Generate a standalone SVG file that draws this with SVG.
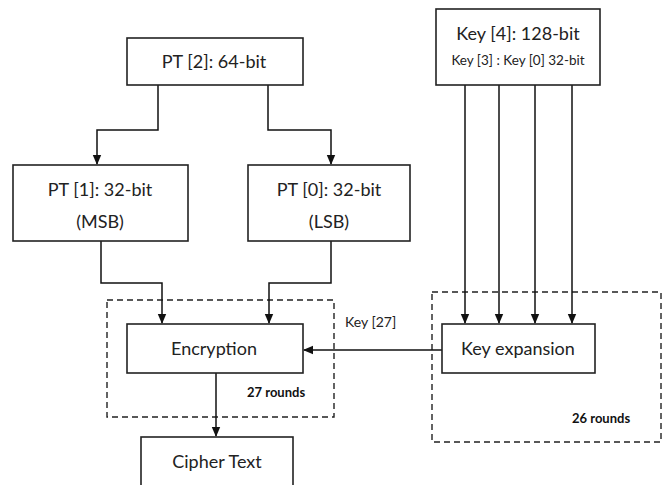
<svg xmlns="http://www.w3.org/2000/svg" width="662" height="485" viewBox="0 0 662 485">
<defs>
<marker id="ah" markerWidth="10" markerHeight="10" refX="9" refY="5" orient="auto" markerUnits="userSpaceOnUse">
<path d="M0,0.8 L10,5 L0,9.2 z" fill="#111"/>
</marker>
<style>
.box{fill:#fff;stroke:#222;stroke-width:1.6}
.dash{fill:none;stroke:#222;stroke-width:1.4;stroke-dasharray:6,4}
.t{font-family:Lato,"Liberation Sans",sans-serif;fill:#222;text-anchor:middle}
.big{font-size:18px}
.sm{font-size:13.5px}
.k{font-family:Lato,"Liberation Sans",sans-serif;font-size:14px;fill:#222}
.rb{font-family:Lato,"Liberation Sans",sans-serif;font-size:13px;font-weight:bold;fill:#111}
.c{fill:none;stroke:#111;stroke-width:1.5}
</style>
</defs>
<rect width="662" height="485" fill="#fff"/>
<g id="encGroup"><rect class="dash" x="107" y="300" width="227" height="117"/></g>
<g id="keyGroup"><rect class="dash" x="432" y="292" width="229" height="150"/></g>
<g id="connectors">
<path class="c" d="M158,85 V130 H97 V164" marker-end="url(#ah)"/>
<path class="c" d="M268,85 V130 H331 V164" marker-end="url(#ah)"/>
<path class="c" d="M101,241 V283 H162 V323" marker-end="url(#ah)"/>
<path class="c" d="M331,241 V283 H269 V323" marker-end="url(#ah)"/>
<path class="c" d="M465,85 V323" marker-end="url(#ah)"/>
<path class="c" d="M499,85 V323" marker-end="url(#ah)"/>
<path class="c" d="M535,85 V323" marker-end="url(#ah)"/>
<path class="c" d="M572,85 V323" marker-end="url(#ah)"/>
<path class="c" d="M442,350 H304" marker-end="url(#ah)"/>
<path class="c" d="M216,373 V436" marker-end="url(#ah)"/>
</g>
<g id="pt2"><rect class="box" x="127" y="38" width="176" height="47"/><text class="t big" x="214" y="68">PT [2]: 64-bit</text></g>
<g id="key4"><rect class="box" x="436" y="9" width="164" height="76"/><text class="t big" x="518" y="40">Key [4]: 128-bit</text><text class="t sm" x="518" y="65">Key [3] : Key [0] 32-bit</text></g>
<g id="pt1"><rect class="box" x="13" y="165" width="175" height="76"/><text class="t big" x="100" y="196">PT [1]: 32-bit</text><text class="t big" x="100" y="228">(MSB)</text></g>
<g id="pt0"><rect class="box" x="248" y="165" width="162" height="76"/><text class="t big" x="329" y="196">PT [0]: 32-bit</text><text class="t big" x="329" y="228">(LSB)</text></g>
<g id="enc"><rect class="box" x="127" y="324" width="176" height="49"/><text class="t big" x="214" y="355">Encryption</text></g>
<g id="keyexp"><rect class="box" x="442" y="324" width="153" height="49"/><text class="t big" x="518" y="355">Key expansion</text></g>
<g id="cipher"><rect class="box" x="141" y="437" width="152" height="55"/><text class="t big" x="217" y="468">Cipher Text</text></g>
<text class="k" x="345" y="327">Key [27]</text>
<text class="rb" x="247" y="397">27 rounds</text>
<text class="rb" x="572" y="423">26 rounds</text>
</svg>
